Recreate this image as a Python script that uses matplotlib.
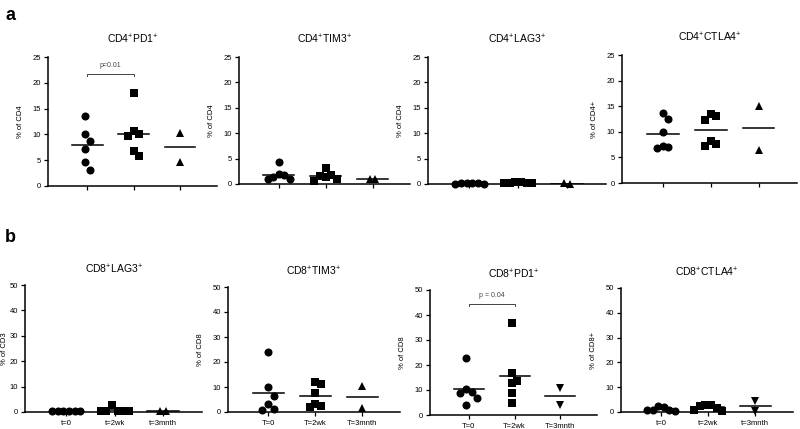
import numpy as np
import matplotlib
matplotlib.use("Agg")
import matplotlib.pyplot as plt

plt.rcParams["font.family"] = ["Liberation Sans", "DejaVu Sans"]
plt.rcParams["mathtext.default"] = "regular"

W, H = 800, 429

# x labels (row b only)
time_lower = ["t=0", "t=2wk", "t=3mnth"]
time_upper = ["T=0", "T=2wk", "T=3mnth"]

# row a: % of CD4 ; each entry = [t0, 2wk, 3mnth]
cd4_pd1 = [[13.6, 10.1, 8.8, 7.1, 4.6, 3.1],
           [18.1, 10.6, 10.0, 9.7, 6.7, 5.8],
           [10.3, 4.7]]
cd4_tim3 = [[4.3, 1.9, 1.8, 1.3, 0.9, 0.9],
            [3.2, 1.8, 1.6, 1.3, 1.0, 0.6],
            [0.9, 0.9]]
cd4_lag3 = [[0.12, 0.08, 0.1, 0.05, 0.1, 0.15],
            [0.1, 0.1, 0.15, 0.2, 0.3, 0.4],
            [0.05, 0.1]]
cd4_ctla4 = [[13.6, 12.5, 10.0, 7.2, 7.0, 6.9],
             [13.5, 13.0, 12.4, 8.2, 7.7, 7.3],
             [15.0, 6.5]]

# row b
cd8_lag3 = [[0.3, 0.3, 0.2, 0.2, 0.4, 0.5],
            [0.3, 0.2, 0.4, 0.3, 0.5, 2.6],
            [0.2, 0.3]]
cd8_tim3 = [[24.0, 10.0, 6.5, 3.2, 1.3, 1.0],
            [12.0, 11.3, 7.5, 3.2, 2.4, 2.0],
            [10.5, 1.5]]
cd8_pd1 = [[22.7, 10.3, 9.3, 8.7, 6.9, 4.0],
           [36.7, 16.9, 13.7, 12.7, 8.7, 4.7],
           [10.9, 4.0]]
cd8_ctla4 = [[1.9, 0.8, 0.6, 0.7, 1.0, 2.6],
             [2.9, 1.6, 0.8, 0.6, 2.3, 3.0],
             [4.6, 0.4]]

panels = [
    # title, ylabel, data, ymax, rect px (l, t, r, b), xlabels, 3rd marker, p
    ("CD4$^{+}$PD1$^{+}$", "% of CD4", cd4_pd1, 25, (48, 57, 217, 186), None, "^", ("p=0.01", 21.8)),
    ("CD4$^{+}$TIM3$^{+}$", "% of CD4", cd4_tim3, 25, (239, 57, 410, 184), None, "^", None),
    ("CD4$^{+}$LAG3$^{+}$", "% of CD4", cd4_lag3, 25, (428, 57, 606, 184), None, "^", None),
    ("CD4$^{+}$CTLA4$^{+}$", "% of CD4+", cd4_ctla4, 25, (622, 55, 797, 183), None, "^", None),
    ("CD8$^{+}$LAG3$^{+}$", "% of CD3", cd8_lag3, 50, (25, 285, 202, 412), time_lower, "^", None),
    ("CD8$^{+}$TIM3$^{+}$", "% of CD8", cd8_tim3, 50, (228, 287, 400, 412), time_upper, "^", None),
    ("CD8$^{+}$PD1$^{+}$", "% of CD8", cd8_pd1, 50, (430, 290, 597, 415), time_upper, "v", ("p = 0.04", 44.5)),
    ("CD8$^{+}$CTLA4$^{+}$", "% of CD8+", cd8_ctla4, 50, (621, 288, 793, 412), time_lower, "v", None),
]

XLIM = (0.15, 3.8)
MS = 5.8
DIAM = 7.5  # marker diameter, px


def swarm(values, xpx, ypx, step):
    # column scatter: push points sideways while they sit too close to a placed one
    order = np.argsort(values)[::-1]
    placed = []
    offs = np.zeros(len(values))
    for i in order:
        y = values[i] * ypx
        k = 0
        while True:
            cand = 0 if k == 0 else ((k + 1) // 2) * step * (1 if k % 2 else -1)
            ok = all(abs(cand - ox) >= step or abs(y - oy) >= step * 1.6
                     for ox, oy in placed)
            if ok:
                break
            k += 1
        placed.append((cand, y))
        offs[i] = cand
    offs -= (offs.max() + offs.min()) / 2
    return offs / xpx


fig = plt.figure(figsize=(W / 100, H / 100), dpi=100)

for title, ylabel, data, ymax, (l, t, r, b), xlabels, m3, pval in panels:
    ax = fig.add_axes([l / W, 1 - b / H, (r - l) / W, (b - t) / H])
    ax.set_xlim(*XLIM)
    ax.set_ylim(0, ymax)
    xpx = (r - l) / (XLIM[1] - XLIM[0])
    ypx = (b - t) / ymax
    for i, (vals, mk) in enumerate(zip(data, ["o", "s", m3])):
        vals = np.array(vals)
        xs = i + 1 + swarm(vals, xpx, ypx, DIAM * 0.75)
        ax.plot(xs, vals, mk, color="black", markersize=MS if mk == "o" else MS * 0.95,
                markeredgewidth=0, clip_on=False, zorder=3)
        mean = vals.mean()
        ax.plot([i + 1 - 0.33, i + 1 + 0.33], [mean, mean], color="black", lw=1.1, zorder=2)
    if pval is not None:
        txt, yb = pval
        d = ymax * 0.02
        ax.plot([1, 1, 2, 2], [yb - d, yb, yb, yb - d], color="#444444", lw=0.7)
        ax.text(1.5, yb + ymax * 0.035, txt, ha="center", va="bottom", fontsize=5, color="#444444")
    for s in ["top", "right"]:
        ax.spines[s].set_visible(False)
    for s in ["left", "bottom"]:
        ax.spines[s].set_linewidth(1.1)
    ax.set_yticks(np.arange(0, ymax + 1, ymax // 5))
    ax.set_xticks([1, 2, 3])
    if xlabels:
        ax.set_xticklabels(xlabels, fontsize=5.5)
    else:
        ax.set_xticklabels([])
    ax.tick_params(axis="y", labelsize=5.5, length=3, width=0.9, pad=2)
    ax.tick_params(axis="x", length=3, width=0.9, pad=3)
    ax.set_ylabel(ylabel, fontsize=5.5, labelpad=1 if l < 40 else 6)
    ax.set_title(title, fontsize=7.5, pad=10 if ymax == 25 else 8)

fig.text(5 / W, 1 - 15 / H, "a", fontsize=13, fontweight="bold", va="center")
fig.text(5 / W, 1 - 238 / H, "b", fontsize=13, fontweight="bold", va="center")

fig.savefig("out.png", dpi=100)
